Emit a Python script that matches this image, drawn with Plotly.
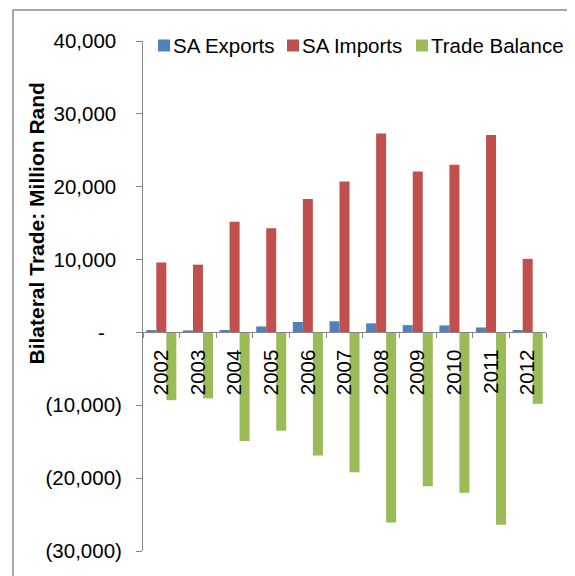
import plotly.graph_objects as go

years = ['2002', '2003', '2004', '2005', '2006', '2007', '2008', '2009', '2010', '2011', '2012']
sa_exports = [320, 280, 330, 820, 1430, 1530, 1250, 1000, 960, 680, 330]
sa_imports = [9600, 9300, 15200, 14300, 18300, 20700, 27300, 22100, 23000, 27100, 10100]
trade_balance = [-9300, -9050, -14900, -13500, -16900, -19200, -26100, -21100, -22000, -26400, -9800]

series_names = ['SA Exports', 'SA Imports', 'Trade Balance']
series_colors = ['#4F81BD', '#C0504D', '#9BBB59']

y_tickvals = [40000, 30000, 20000, 10000, 0, -10000, -20000, -30000]
y_ticktext = ['40,000\u00a0', '30,000\u00a0', '20,000\u00a0', '10,000\u00a0', '-\u00a0\u00a0\u00a0',
              '(10,000)', '(20,000)', '(30,000)']
y_title = 'Bilateral Trade: Million Rand'

FONT = 'Liberation Sans, Arial, sans-serif'
AXIS_GRAY = '#868686'

# page is rendered with an 8px body margin; compensate
OFF = 8
PAGE_W, PAGE_H = 575, 576
W, H = PAGE_W - OFF, PAGE_H - OFF
# plot area in page pixels
L, R, T, B = 143, 546, 41, 551
PW, PH = R - L, B - T


def px(xp):
    return (xp - L) / PW


def py(yp):
    return (B - yp) / PH


fig = go.Figure()
for name, vals, col in zip(series_names, [sa_exports, sa_imports, trade_balance], series_colors):
    fig.add_trace(go.Bar(x=years, y=vals, name=name, marker_color=col,
                         marker_line_width=0, showlegend=False))

ymin, ymax = -30000, 40000

fig.update_layout(
    width=W, height=H,
    margin=dict(l=L - OFF, r=PAGE_W - R, t=T - OFF, b=PAGE_H - B, pad=0),
    paper_bgcolor='white', plot_bgcolor='white',
    barmode='group', bargap=0.18, bargroupgap=0,
    font=dict(family=FONT, size=20.5, color='black'),
    xaxis=dict(type='category', anchor='free', position=(0 - ymin) / (ymax - ymin),
               showline=True, linecolor=AXIS_GRAY, linewidth=1,
               ticks='outside', tickson='boundaries', ticklen=5, tickcolor=AXIS_GRAY,
               tickangle=-90, tickfont=dict(size=20.5, family=FONT, color='black'),
               showgrid=False, zeroline=False, ticklabelstandoff=8),
    yaxis=dict(range=[ymin, ymax], tickvals=y_tickvals, ticktext=y_ticktext,
               showline=True, linecolor=AXIS_GRAY, linewidth=1,
               ticks='outside', ticklen=6, tickcolor=AXIS_GRAY,
               tickfont=dict(size=20.5, family=FONT, color='black'),
               showgrid=False, zeroline=False, ticklabelstandoff=10),
)

shapes = [dict(type='rect', xref='paper', yref='paper',
               x0=px(13), x1=px(569), y0=py(620), y1=py(10),
               line=dict(color='#8C8C8C', width=1.5), fillcolor='rgba(0,0,0,0)', layer='below')]
annotations = [dict(text='<b>' + y_title + '</b>', textangle=-90, xref='paper', yref='paper',
                    x=px(36), y=py(223.5), xanchor='center', yanchor='middle', showarrow=False,
                    font=dict(size=21, family=FONT, color='black'))]

legend_sq_x = [158, 287, 416]
legend_txt_x = [171, 300, 429]
leg_y = 45.5
for name, col, sx, tx in zip(series_names, series_colors, legend_sq_x, legend_txt_x):
    shapes.append(dict(type='rect', xref='paper', yref='paper',
                       x0=px(sx), x1=px(sx + 12), y0=py(leg_y + 6), y1=py(leg_y - 6),
                       line=dict(width=0), fillcolor=col))
    annotations.append(dict(text=name, xref='paper', yref='paper', x=px(tx), y=py(leg_y),
                            xanchor='left', yanchor='middle', showarrow=False,
                            font=dict(size=20.5, family=FONT, color='black')))

fig.update_layout(shapes=shapes, annotations=annotations)
fig.write_html('out.html')
